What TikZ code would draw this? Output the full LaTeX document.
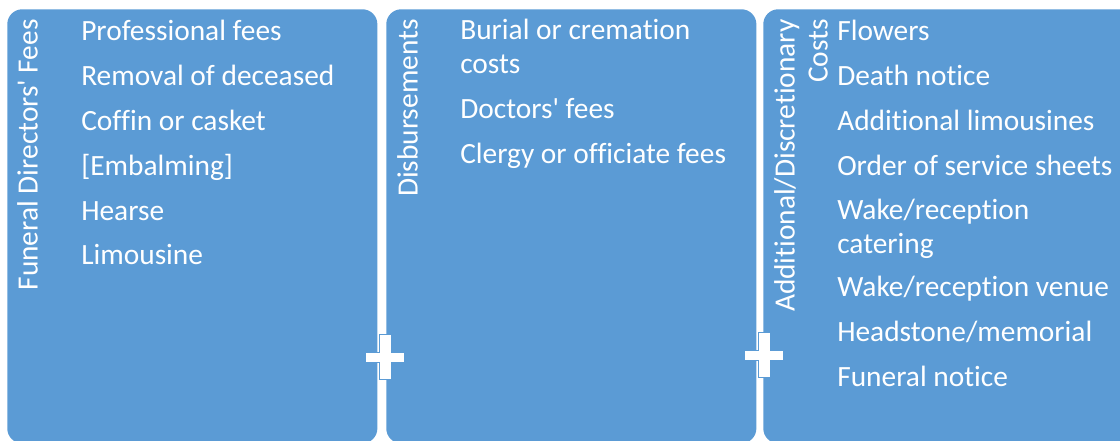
\documentclass[tikz,border=0pt]{standalone}
\usepackage{fontspec}
\setmainfont{Carlito}[Ligatures={TeXOff,NoCommon}]
\definecolor{PanelBlue}{RGB}{91, 155, 213}

\begin{document}
\begin{tikzpicture}[x=0.025cm, y=-0.025cm,
                panel/.style={fill=PanelBlue, rounded corners=0.375cm, anchor=north west, minimum height=10.85cm, inner sep=0pt},
                item/.style={anchor=base west, inner sep=0pt, text=white, align=left, font=\fontsize{20.9}{23.5}\selectfont},
                heading/.style={item, anchor=north east, rotate=90, align=right},
                crossmark/.style={fill=white, draw=PanelBlue, line width=0.4pt}
            ]
                \useasboundingbox (0,0) rectangle (1120,441);
                \clip (0,0) rectangle (1120,441);

                % Panels
                \node[panel, minimum width=9.25cm] (fees) at (7,9) {};
                \node[panel, minimum width=9.25cm] (disb) at (386,9) {};
                \node[panel, minimum width=9.3cm] (extra) at (763,9) {};

                % Funeral directors' fees
                \node[heading] (feesT) at (17,19) {Funeral Directors' Fees};
                \node[item] (fees1) at (81,40) {Professional fees};
                \node[item] (fees2) at (81,85) {Removal of deceased};
                \node[item] (fees3) at (81,130) {Coffin or casket};
                \node[item] (fees4) at (81,175) {[Embalming]};
                \node[item] (fees5) at (81,220) {Hearse};
                \node[item] (fees6) at (81,264) {Limousine};

                % Disbursements
                \node[heading] (disbT) at (397,19) {Disbursements};
                \node[item] (disb1) at (460,73) {Burial or cremation\\costs};
                \node[item] (disb2) at (460,118) {Doctors' fees};
                \node[item] (disb3) at (460,163) {Clergy or officiate fees};

                % Additional costs
                \node[heading] (extraT) at (774,19) {Additional/Discretionary\\Costs};
                \node[item] (extra1) at (837,40) {Flowers};
                \node[item] (extra2) at (837,85) {Death notice};
                \node[item] (extra3) at (837,130) {Additional limousines};
                \node[item] (extra4) at (837,175) {Order of service sheets};
                \node[item] (extra5) at (837,253) {Wake/reception\\catering};
                \node[item] (extra6) at (837,296) {Wake/reception venue};
                \node[item] (extra7) at (837,341) {Headstone/memorial};
                \node[item] (extra8) at (837,386) {Funeral notice};

                % Plus signs
                \coordinate (plusA) at (385,357);
                \coordinate (plusB) at (764,355);
                \foreach \c in {plusA, plusB}
                    \draw[crossmark] (\c) ++(-6,-22.5) -- ++(12,0) -- ++(0,17.5) -- ++(13.5,0) -- ++(0,10)
                        -- ++(-13.5,0) -- ++(0,17.5) -- ++(-12,0) -- ++(0,-17.5) -- ++(-13.5,0) -- ++(0,-10)
                        -- ++(13.5,0) -- cycle;
            \end{tikzpicture}
\end{document}
